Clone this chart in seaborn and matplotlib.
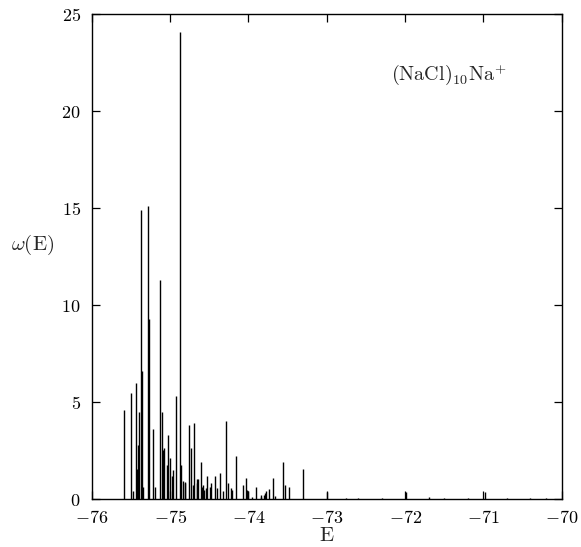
#!/usr/bin/env python

"""
Density of states omega(E) for (NaCl)10Na+ drawn as spikes.
"""

import matplotlib

matplotlib.use("Agg")
import matplotlib.pyplot as plt
import matplotlib.ticker as mticker
import pandas as pd
import seaborn as sns

# spike positions (E) and heights (omega)
energy = [
    -75.583, -75.502, -75.477, -75.438, -75.419, -75.409, -75.396, -75.366,
    -75.360, -75.349, -75.281, -75.268, -75.225, -75.196, -75.132, -75.106,
    -75.092, -75.081, -75.039, -75.030, -75.004, -74.970, -74.962, -74.919,
    -74.877, -74.855, -74.834, -74.813, -74.804, -74.758, -74.740, -74.707,
    -74.698, -74.663, -74.656, -74.643, -74.612, -74.592, -74.579, -74.566,
    -74.536, -74.528, -74.494, -74.472, -74.430, -74.400, -74.366, -74.324,
    -74.289, -74.264, -74.217, -74.209, -74.165, -74.076, -74.034, -74.017,
    -74.000, -73.961, -73.910, -73.846, -73.834, -73.800, -73.791, -73.770,
    -73.740, -73.693, -73.664, -73.558, -73.532, -73.481, -73.302, -72.992,
    -72.750, -72.600, -72.300, -71.992, -71.700, -71.500, -71.200, -70.985,
    -70.700, -70.400, -70.200,
]
omega = [
    4.56, 5.45, 0.40, 6.00, 1.55, 2.80, 4.50, 14.90,
    6.60, 0.60, 15.10, 9.30, 3.60, 0.60, 11.30, 4.50,
    2.50, 2.60, 1.75, 3.30, 2.10, 1.20, 1.50, 5.30,
    24.10, 1.75, 0.90, 0.87, 0.80, 3.80, 2.60, 0.70,
    3.90, 1.05, 0.80, 1.04, 1.90, 0.60, 0.70, 0.45,
    0.55, 1.20, 0.60, 0.80, 1.20, 0.55, 1.33, 0.40,
    4.00, 0.80, 0.55, 0.48, 2.20, 0.70, 1.08, 0.45,
    0.40, 0.10, 0.60, 0.10, 0.20, 0.20, 0.30, 0.40,
    0.50, 1.08, 0.15, 1.90, 0.70, 0.60, 1.55, 0.35,
    0.05, 0.05, 0.05, 0.35, 0.08, 0.05, 0.05, 0.35,
    0.06, 0.05, 0.04,
]

x_ticks = [-76, -75, -74, -73, -72, -71, -70]
y_ticks = [0, 5, 10, 15, 20, 25]


def main():
    sns.set_style("ticks")
    plt.rcParams["mathtext.fontset"] = "cm"
    plt.rcParams["font.family"] = ["DejaVu Serif"]

    df = pd.DataFrame({"E": energy, "omega": omega})

    fig = plt.figure(figsize=(5.81, 5.47), dpi=100)
    ax = fig.add_axes([0.158, 0.088, 0.809, 0.886])

    ax.vlines(df["E"], 0, df["omega"], color="black", linewidth=1.0)

    ax.set_xlim(-76, -70)
    ax.set_ylim(0, 25)
    ax.set_xticks(x_ticks)
    ax.set_yticks(y_ticks)
    fmt = mticker.FuncFormatter(lambda v, p: f"${v:.0f}$")
    ax.xaxis.set_major_formatter(fmt)
    ax.yaxis.set_major_formatter(fmt)
    ax.tick_params(
        direction="in", length=6, width=0.9, top=True, right=True,
        labelsize=13, colors="black",
    )
    ax.tick_params(axis="x", pad=7)
    ax.tick_params(axis="y", pad=8)
    for s in ax.spines.values():
        s.set_linewidth(1.0)
        s.set_color("black")

    ax.set_xlabel(r"$\mathrm{E}$", fontsize=15)
    ax.xaxis.set_label_coords(0.5, -0.056)
    ax.xaxis.label.set_va("top")
    ax.set_ylabel(r"$\omega(\mathrm{E})$", fontsize=15, rotation=0)
    ax.yaxis.set_label_coords(-0.125, 0.5)
    ax.text(
        0.76, 0.875, r"$(\mathrm{NaCl})_{10}\mathrm{Na}^{+}$",
        transform=ax.transAxes, fontsize=14.5, ha="center", va="center",
    )

    fig.savefig("out.png", dpi=100)


if __name__ == "__main__":
    main()
